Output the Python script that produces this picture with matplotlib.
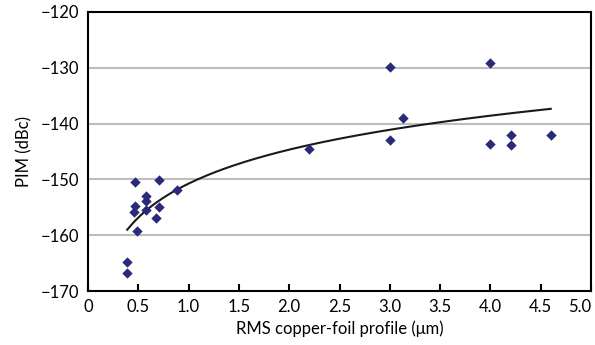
import numpy as np
import matplotlib
matplotlib.use("Agg")
import matplotlib.pyplot as plt

plt.rcParams['font.family'] = ['Lato', 'DejaVu Sans']

rms_profile = [0.39, 0.39, 0.465, 0.71, 0.88, 0.58, 0.58, 0.465, 0.455, 0.58, 0.71, 0.68, 0.485,
               2.2, 3.0, 3.0, 3.13, 4.0, 4.0, 4.2, 4.2, 4.6]
pim_dbc = [-164.8, -166.8, -150.5, -150.1, -151.9, -153.0, -153.9, -154.8, -155.8, -155.5, -155.0, -156.9, -159.2,
           -144.6, -129.9, -143.0, -139.0, -129.1, -143.7, -142.1, -143.8, -142.1]

xticks = [0, 0.5, 1.0, 1.5, 2.0, 2.5, 3.0, 3.5, 4.0, 4.5, 5.0]
xtick_labels = ['0', '0.5', '1.0', '1.5', '2.0', '2.5', '3.0', '3.5', '4.0', '4.5', '5.0']
yticks = [-170, -160, -150, -140, -130, -120]

# logarithmic trendline fitted to the data (as in the source chart)
b, a = np.polyfit(np.log(rms_profile), pim_dbc, 1)
tx = np.linspace(min(rms_profile), max(rms_profile), 200)
ty = a + b * np.log(tx)

fig = plt.figure(figsize=(5.95, 3.45), dpi=100)
ax = fig.add_axes([88/595, 1 - 291/345, (591-88)/595, (291-12)/345])

ax.plot(tx, ty, color='#1a1a1a', lw=1.5, zorder=3)
ax.scatter(rms_profile, pim_dbc, marker='D', s=28, color='#2a2a7a', zorder=4, linewidths=0)

ax.set_xlim(0, 5.0)
ax.set_ylim(-170, -120)
ax.set_xticks(xticks)
ax.set_xticklabels(xtick_labels)
ax.set_yticks(yticks)
ax.set_yticklabels(['\u2212' + str(abs(v)) for v in yticks])
for v in yticks[1:-1]:
    ax.axhline(v, color='#bdbdbd', lw=1.5, zorder=1)

for s in ax.spines.values():
    s.set_linewidth(1.5)
    s.set_color('black')
ax.tick_params(axis='x', direction='in', length=5, width=1.5, labelsize=12, pad=6)
ax.tick_params(axis='y', length=0, labelsize=12, pad=6)
ax.get_xticklabels()[-1].set_horizontalalignment('right')
ax.set_xlabel('RMS copper-foil profile (\u03bcm)', fontsize=12, labelpad=4)
ax.set_ylabel('PIM (dBc)', fontsize=12, labelpad=6)

fig.savefig('out.png', dpi=100)
